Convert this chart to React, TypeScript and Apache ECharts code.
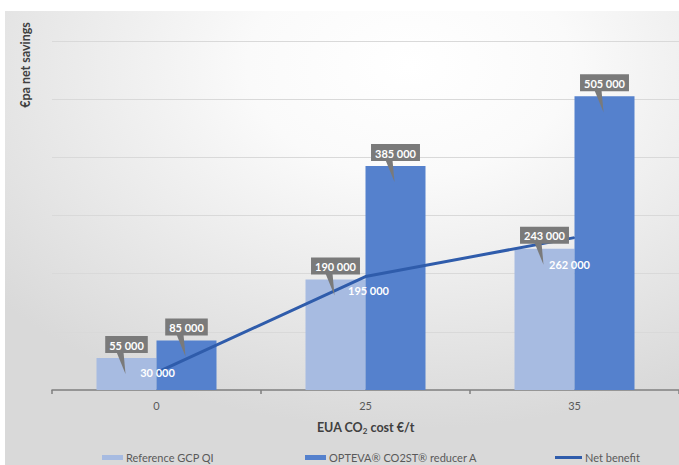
import React, { useEffect, useRef } from "react";
import * as echarts from "echarts";

// EUA CO2 price points (€/t)
const categories = ["0", "25", "35"];
// Annual net savings (€pa)
const referenceValues = [55000, 190000, 243000];
const optevaValues = [85000, 385000, 505000];
const netBenefitValues = [30000, 195000, 262000];
// Label nudges for the net benefit line (px)
const netLabelOffsets = [
  [1, 0],
  [3, 14],
  [-5, 27],
];

const seriesNames = ["Reference GCP QI", "OPTEVA® CO2ST® reducer A", "Net benefit"];

const LIGHT = "#a7bbe1";
const DARK = "#5581cd";
const LINE = "#2f5cab";
const CALLOUT = "#7a7a7a";
const FONT = "Lato, 'Open Sans', sans-serif";
const BAR_WIDTH = 60;

const fmt = (v: number) => String(v).replace(/\B(?=(\d{3})+(?!\d))/g, " ");

export default function App() {
  const ref = useRef<HTMLDivElement>(null);

  useEffect(() => {
    if (!ref.current) return;
    const chart = echarts.init(ref.current, null, { renderer: "svg" });

    const calloutData = [
      ...referenceValues.map((v, i) => [i, v, -1]),
      ...optevaValues.map((v, i) => [i, v, 1]),
    ];

    const legendBase = {
      top: 447,
      itemHeight: 5,
      itemWidth: 21,
      icon: "rect",
      itemGap: 3,
      textStyle: { color: "#595959", fontSize: 11, fontFamily: FONT, padding: [0, 0, 0, -2] },
    };

    chart.setOption({
      animation: false,
      backgroundColor: "#ffffff",
      textStyle: { fontFamily: FONT },
      graphic: [
        {
          type: "rect",
          z: -10,
          silent: true,
          shape: { x: 5, y: 11, width: 674, height: 454 },
          style: {
            fill: new echarts.graphic.RadialGradient(0.6, 0.12, 0.8, [
              { offset: 0, color: "#ffffff" },
              { offset: 0.3, color: "#fafafa" },
              { offset: 1, color: "#d9d9d9" },
            ]),
          },
        },
        {
          type: "text",
          x: 25,
          y: 65,
          rotation: Math.PI / 2,
          style: {
            text: "€pa net savings",
            fill: "#404040",
            font: `bold 12.5px ${FONT}`,
            align: "center",
            verticalAlign: "middle",
          },
        },
      ],
      legend: [
        { ...legendBase, left: 97, data: [seriesNames[0]] },
        { ...legendBase, left: 300, data: [seriesNames[1]] },
        { ...legendBase, left: 550, itemWidth: 27, itemHeight: 3, data: [seriesNames[2]] },
      ],
      grid: { left: 52, right: 0, top: 41, bottom: 75, containLabel: false },
      xAxis: {
        type: "category",
        data: categories,
        axisLine: { lineStyle: { color: "#7f7f7f", width: 1.5 } },
        axisTick: { show: true, length: 4, lineStyle: { color: "#7f7f7f", width: 1.5 } },
        axisLabel: { color: "#595959", fontSize: 11, margin: 10 },
        name: "{b|EUA CO}{s|2}{b| cost €/t}",
        nameLocation: "middle",
        nameGap: 30,
        nameTextStyle: {
          rich: {
            b: { fontWeight: "bold", fontSize: 12.5, color: "#404040", fontFamily: FONT },
            s: {
              fontWeight: "bold",
              fontSize: 8,
              color: "#404040",
              fontFamily: FONT,
              padding: [7, 0, 0, 0],
            },
          },
        },
      },
      yAxis: {
        type: "value",
        min: 0,
        max: 600000,
        interval: 100000,
        axisLabel: { show: false },
        axisLine: { show: false },
        axisTick: { show: false },
        splitLine: { lineStyle: { color: "#d9d9d9", width: 1 } },
      },
      series: [
        {
          name: seriesNames[0],
          type: "bar",
          data: referenceValues,
          barWidth: BAR_WIDTH,
          barGap: "0%",
          itemStyle: { color: LIGHT },
          z: 2,
        },
        {
          name: seriesNames[1],
          type: "bar",
          data: optevaValues,
          barWidth: BAR_WIDTH,
          barGap: "0%",
          itemStyle: { color: DARK },
          z: 2,
        },
        {
          name: seriesNames[2],
          type: "line",
          data: netBenefitValues.map((v, i) => ({
            value: v,
            label: { offset: netLabelOffsets[i] },
          })),
          symbol: "circle",
          symbolSize: 1,
          itemStyle: { color: LINE },
          lineStyle: { color: LINE, width: 3 },
          label: {
            show: true,
            position: "inside",
            color: "#ffffff",
            fontWeight: "bold",
            fontSize: 11,
            fontFamily: FONT,
            formatter: (p: any) => fmt(p.value),
          },
          z: 3,
        },
        {
          type: "custom",
          name: "callouts",
          data: calloutData,
          encode: { x: 0, y: 1 },
          z: 4,
          silent: true,
          renderItem: (_params: any, api: any) => {
            const idx = api.value(0);
            const val = api.value(1);
            const side = api.value(2);
            const p = api.coord([idx, val]);
            const cx = p[0] + (side * BAR_WIDTH) / 2;
            const top = p[1];
            const boxBottom = top - 5;
            return {
              type: "group",
              children: [
                {
                  type: "polygon",
                  shape: {
                    points: [
                      [cx - 10, boxBottom - 1],
                      [cx - 3, boxBottom - 1],
                      [cx - 1, top + 16],
                    ],
                  },
                  style: { fill: CALLOUT },
                },
                {
                  type: "text",
                  x: cx,
                  y: boxBottom,
                  style: {
                    text: fmt(val),
                    fill: "#ffffff",
                    font: `bold 11px ${FONT}`,
                    lineHeight: 12,
                    align: "center",
                    verticalAlign: "bottom",
                    backgroundColor: CALLOUT,
                    padding: [3, 4, 2, 4],
                  },
                },
              ],
            };
          },
        },
      ],
    });

    return () => chart.dispose();
  }, []);

  return (
    <div
      ref={ref}
      style={{ position: "fixed", left: 0, top: 0, width: 679, height: 465 }}
    />
  );
}
